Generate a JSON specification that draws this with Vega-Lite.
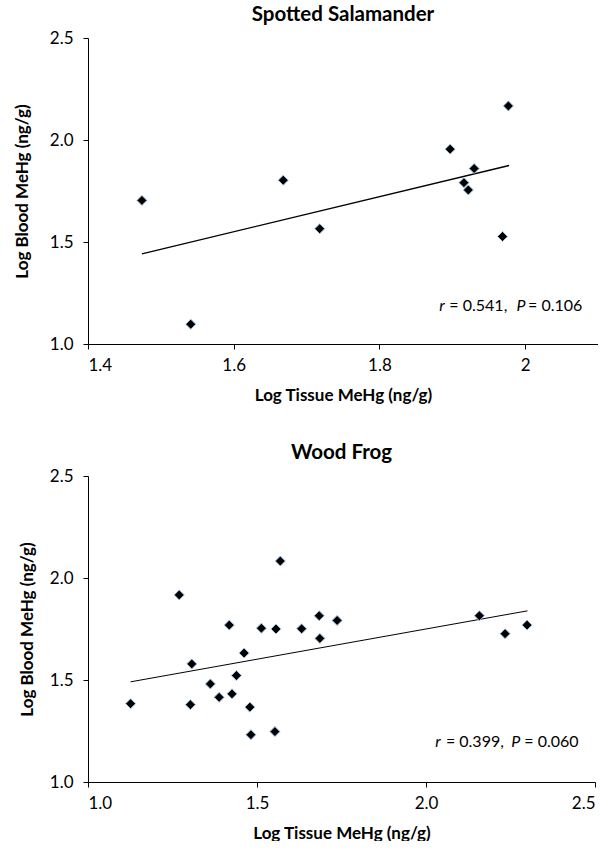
{
  "$schema": "https://vega.github.io/schema/vega-lite/v6.json",
  "padding": {"left": 13, "top": 4, "right": 0, "bottom": 0},
  "spacing": 39,
  "align": "none",
  "config": {
    "font": "Lato",
    "view": {"stroke": null},
    "axis": {
      "grid": false,
      "domainColor": "#000",
      "tickColor": "#000",
      "labelColor": "#000",
      "titleColor": "#000",
      "labelFont": "Lato",
      "titleFont": "Lato",
      "labelFontSize": 17,
      "titleFontSize": 17,
      "titleFontWeight": "bold",
      "tickSize": 5,
      "domainWidth": 1,
      "tickWidth": 1
    },
    "title": {"font": "Lato", "fontSize": 20.5, "fontWeight": "bold", "color": "#000", "anchor": "middle"}
  },
  "datasets": {
    "sal": [
      {"tissue": 1.474, "blood": 1.704},
      {"tissue": 1.541, "blood": 1.097},
      {"tissue": 1.668, "blood": 1.803},
      {"tissue": 1.718, "blood": 1.565},
      {"tissue": 1.897, "blood": 1.955},
      {"tissue": 1.930, "blood": 1.860},
      {"tissue": 1.916, "blood": 1.791},
      {"tissue": 1.922, "blood": 1.755},
      {"tissue": 1.969, "blood": 1.527},
      {"tissue": 1.977, "blood": 2.167}
    ],
    "salfit": [
      {"tissue": 1.474, "blood": 1.442},
      {"tissue": 1.978, "blood": 1.875}
    ],
    "salItalic": [
      {"tissue": 1.882, "blood": 1.186, "label": "r"},
      {"tissue": 1.988, "blood": 1.186, "label": "P"}
    ],
    "salNormal": [
      {"tissue": 1.896, "blood": 1.186, "label": "= 0.541,"},
      {"tissue": 2.004, "blood": 1.186, "label": "= 0.106"}
    ],
    "frog": [
      {"tissue": 1.126, "blood": 1.384},
      {"tissue": 1.270, "blood": 1.917},
      {"tissue": 1.303, "blood": 1.379},
      {"tissue": 1.307, "blood": 1.579},
      {"tissue": 1.362, "blood": 1.481},
      {"tissue": 1.388, "blood": 1.415},
      {"tissue": 1.418, "blood": 1.769},
      {"tissue": 1.426, "blood": 1.432},
      {"tissue": 1.439, "blood": 1.522},
      {"tissue": 1.462, "blood": 1.632},
      {"tissue": 1.479, "blood": 1.367},
      {"tissue": 1.482, "blood": 1.232},
      {"tissue": 1.513, "blood": 1.754},
      {"tissue": 1.553, "blood": 1.247},
      {"tissue": 1.556, "blood": 1.750},
      {"tissue": 1.569, "blood": 2.083},
      {"tissue": 1.632, "blood": 1.751},
      {"tissue": 1.684, "blood": 1.815},
      {"tissue": 1.686, "blood": 1.704},
      {"tissue": 1.737, "blood": 1.792},
      {"tissue": 2.158, "blood": 1.815},
      {"tissue": 2.234, "blood": 1.727},
      {"tissue": 2.299, "blood": 1.769}
    ],
    "frogfit": [
      {"tissue": 1.126, "blood": 1.491},
      {"tissue": 2.300, "blood": 1.839}
    ],
    "frogItalic": [
      {"tissue": 2.027, "blood": 1.196, "label": "r"},
      {"tissue": 2.252, "blood": 1.196, "label": "P"}
    ],
    "frogNormal": [
      {"tissue": 2.059, "blood": 1.196, "label": "= 0.399,"},
      {"tissue": 2.291, "blood": 1.196, "label": "= 0.060"}
    ]
  },
  "vconcat": [
    {
      "width": 510,
      "height": 306,
      "title": {"text": "Spotted Salamander", "offset": 4},
      "encoding": {
        "x": {"field": "tissue", "type": "quantitative",
              "scale": {"domain": [1.4, 2.1], "nice": false, "zero": false},
              "axis": {"values": [1.4, 1.6, 1.8, 2.0], "format": "~g", "title": "Log Tissue MeHg (ng/g)", "labelPadding": 8, "titlePadding": 14}},
        "y": {"field": "blood", "type": "quantitative",
              "scale": {"domain": [1.0, 2.5], "nice": false, "zero": false},
              "axis": {"values": [1.0, 1.5, 2.0, 2.5], "format": ".1f", "title": "Log Blood MeHg (ng/g)", "labelPadding": 10, "titlePadding": 18}}
      },
      "layer": [
        {"data": {"name": "salfit"}, "mark": {"type": "line", "color": "#000", "strokeWidth": 1.3}},
        {"data": {"name": "sal"}, "mark": {"type": "point", "shape": "diamond", "filled": true, "size": 100, "color": "#000", "stroke": "#9DC3E6", "strokeWidth": 1, "opacity": 1}},
        {"data": {"name": "salItalic"}, "mark": {"type": "text", "align": "left", "baseline": "middle", "fontSize": 16, "fontStyle": "italic", "color": "#000"}, "encoding": {"text": {"field": "label"}}},
        {"data": {"name": "salNormal"}, "mark": {"type": "text", "align": "left", "baseline": "middle", "fontSize": 16, "color": "#000"}, "encoding": {"text": {"field": "label"}}}
      ]
    },
    {
      "width": 507,
      "height": 306,
      "title": {"text": "Wood Frog", "offset": 4},
      "encoding": {
        "x": {"field": "tissue", "type": "quantitative",
              "scale": {"domain": [1.0, 2.5], "nice": false, "zero": false},
              "axis": {"values": [1.0, 1.5, 2.0, 2.5], "format": ".1f", "title": "Log Tissue MeHg (ng/g)", "labelPadding": 8, "titlePadding": 14}},
        "y": {"field": "blood", "type": "quantitative",
              "scale": {"domain": [1.0, 2.5], "nice": false, "zero": false},
              "axis": {"values": [1.0, 1.5, 2.0, 2.5], "format": ".1f", "title": "Log Blood MeHg (ng/g)", "labelPadding": 10, "titlePadding": 13}}
      },
      "layer": [
        {"data": {"name": "frogfit"}, "mark": {"type": "line", "color": "#000", "strokeWidth": 1}},
        {"data": {"name": "frog"}, "mark": {"type": "point", "shape": "diamond", "filled": true, "size": 100, "color": "#000", "stroke": "#9DC3E6", "strokeWidth": 1, "opacity": 1}},
        {"data": {"name": "frogItalic"}, "mark": {"type": "text", "align": "left", "baseline": "middle", "fontSize": 16, "fontStyle": "italic", "color": "#000"}, "encoding": {"text": {"field": "label"}}},
        {"data": {"name": "frogNormal"}, "mark": {"type": "text", "align": "left", "baseline": "middle", "fontSize": 16, "color": "#000"}, "encoding": {"text": {"field": "label"}}}
      ]
    }
  ]
}
